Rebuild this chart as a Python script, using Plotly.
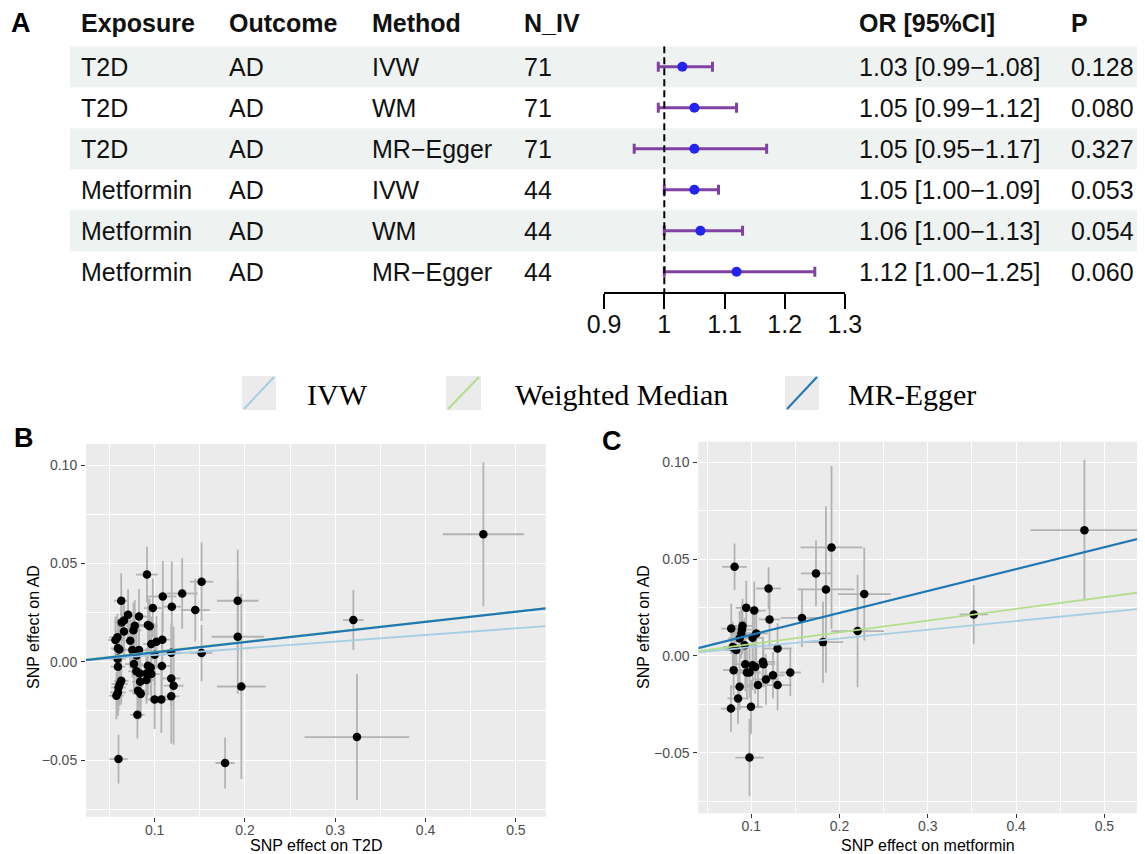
import plotly.graph_objects as go

# The page body adds an 8 px margin, so the figure is shrunk by that amount
OFF = 8
W, H = 1145 - OFF, 854 - OFF


def px(x):
    return (x - OFF) / W


def py(y):
    return 1 - (y - OFF) / H


# ---------------- Panel A data (forest table) ----------------
exposure = ["T2D", "T2D", "T2D", "Metformin", "Metformin", "Metformin"]
outcome = ["AD", "AD", "AD", "AD", "AD", "AD"]
method = ["IVW", "WM", "MR\u2212Egger", "IVW", "WM", "MR\u2212Egger"]
n_iv = [71, 71, 71, 44, 44, 44]
or_est = [1.03, 1.05, 1.05, 1.05, 1.06, 1.12]
or_lo = [0.99, 0.99, 0.95, 1.00, 1.00, 1.00]
or_hi = [1.08, 1.12, 1.17, 1.09, 1.13, 1.25]
p_val = ["0.128", "0.080", "0.327", "0.053", "0.054", "0.060"]
forest_ticks = [0.9, 1.0, 1.1, 1.2, 1.3]
forest_ticktext = ["0.9", "1", "1.1", "1.2", "1.3"]
headers = ["Exposure", "Outcome", "Method", "N_IV", "OR [95%CI]", "P"]

# ---------------- Panel B data (T2D -> AD) ----------------
b_x = [0.063, 0.0915, 0.109, 0.1305, 0.152, 0.098, 0.119, 0.145, 0.0706, 0.066,
       0.0635, 0.0827, 0.078, 0.0765, 0.0926, 0.0945, 0.066, 0.073, 0.0588, 0.0566,
       0.0963, 0.102, 0.1085, 0.0594, 0.061, 0.0753, 0.0827, 0.080, 0.100, 0.1184,
       0.152, 0.059, 0.0594, 0.0771, 0.0926, 0.0956, 0.108, 0.0798, 0.0834, 0.091,
       0.0963, 0.1184, 0.084, 0.091, 0.063, 0.0613, 0.060, 0.0594, 0.0577, 0.0816,
       0.0842, 0.0845, 0.100, 0.1074, 0.121, 0.1184, 0.0809, 0.060, 0.192, 0.192,
       0.196, 0.178, 0.320, 0.324, 0.464]
b_y = [0.031, 0.0443, 0.0332, 0.0347, 0.0407, 0.0273, 0.028, 0.0263, 0.0239, 0.0209,
       0.0200, 0.023, 0.0183, 0.0160, 0.0187, 0.018, 0.0154, 0.0107, 0.0124, 0.011,
       0.009, 0.0102, 0.0112, 0.0068, 0.0062, 0.0059, 0.0059, 0.0032, 0.0036, 0.0046,
       0.0044, 0.0015, -0.0025, -0.0012, -0.002, -0.0029, -0.0022, -0.0049, -0.006, -0.006,
       -0.0063, -0.0085, -0.0102, -0.0093, -0.0097, -0.0113, -0.0131, -0.0156, -0.0173, -0.0147,
       -0.0159, -0.0164, -0.0192, -0.0192, -0.0122, -0.0176, -0.027, -0.0495, 0.031, 0.0127,
       -0.0126, -0.0515, 0.0212, -0.0383, 0.0648]
b_se_x = [0.008, 0.012, 0.015, 0.017, 0.013, 0.010, 0.010, 0.016, 0.009, 0.010,
          0.008, 0.009, 0.010, 0.009, 0.010, 0.009, 0.010, 0.008, 0.009, 0.008,
          0.009, 0.010, 0.009, 0.008, 0.008, 0.009, 0.008, 0.010, 0.011, 0.011,
          0.012, 0.009, 0.008, 0.010, 0.009, 0.008, 0.010, 0.009, 0.008, 0.010,
          0.009, 0.010, 0.009, 0.008, 0.008, 0.009, 0.008, 0.009, 0.008, 0.010,
          0.009, 0.008, 0.008, 0.009, 0.011, 0.009, 0.008, 0.010, 0.023, 0.029,
          0.027, 0.0107, 0.0114, 0.058, 0.045]
b_se_y = [0.014, 0.0142, 0.018, 0.018, 0.020, 0.015, 0.023, 0.016, 0.013, 0.012,
          0.013, 0.014, 0.013, 0.014, 0.015, 0.014, 0.012, 0.014, 0.012, 0.012,
          0.014, 0.013, 0.014, 0.012, 0.013, 0.014, 0.012, 0.013, 0.016, 0.015,
          0.0143, 0.012, 0.013, 0.013, 0.015, 0.014, 0.016, 0.012, 0.014, 0.013,
          0.014, 0.014, 0.013, 0.012, 0.012, 0.011, 0.012, 0.012, 0.012, 0.015,
          0.013, 0.012, 0.015, 0.017, 0.030, 0.024, 0.012, 0.0124, 0.026, 0.029,
          0.047, 0.013, 0.0153, 0.032, 0.0366]

# ---------------- Panel C data (metformin -> AD) ----------------
c_x = [0.0811, 0.1196, 0.1733, 0.0943, 0.1034, 0.1207, 0.1574, 0.0773, 0.0901, 0.0894,
       0.0887, 0.0868, 0.1015, 0.1057, 0.079, 0.0811, 0.0924, 0.1298, 0.0932, 0.1015,
       0.1045, 0.1132, 0.1139, 0.080, 0.0951, 0.098, 0.1246, 0.1442, 0.1166, 0.1076,
       0.1298, 0.0868, 0.085, 0.077, 0.0997, 0.098, 0.1909, 0.1846, 0.228, 0.1812,
       0.2204, 0.4774, 0.352, 0.083]
c_y = [0.046, 0.0348, 0.0426, 0.0248, 0.0234, 0.0188, 0.0196, 0.0141, 0.0155, 0.0136,
       0.0116, 0.009, 0.0093, 0.0116, 0.0046, 0.0038, 0.0055, 0.0038, -0.0043, -0.0048,
       -0.0057, -0.0031, -0.0043, -0.0074, -0.0086, -0.0086, -0.010, -0.0086, -0.0122, -0.0151,
       -0.0151, -0.016, -0.022, -0.0272, -0.0263, -0.0525, 0.056, 0.0343, 0.0319, 0.0071,
       0.0128, 0.0649, 0.0214, 0.003]
c_se_x = [0.014, 0.014, 0.017, 0.012, 0.013, 0.012, 0.024, 0.011, 0.012, 0.011,
          0.012, 0.013, 0.012, 0.013, 0.011, 0.012, 0.012, 0.016, 0.012, 0.013,
          0.012, 0.014, 0.013, 0.012, 0.012, 0.013, 0.013, 0.012, 0.014, 0.012,
          0.016, 0.011, 0.012, 0.011, 0.013, 0.016, 0.035, 0.032, 0.030, 0.023,
          0.030, 0.061, 0.016, 0.012]
c_se_y = [0.012, 0.011, 0.017, 0.014, 0.015, 0.014, 0.015, 0.013, 0.014, 0.013,
          0.013, 0.014, 0.013, 0.014, 0.013, 0.012, 0.014, 0.013, 0.014, 0.013,
          0.014, 0.013, 0.012, 0.013, 0.014, 0.013, 0.012, 0.012, 0.013, 0.012,
          0.013, 0.012, 0.013, 0.012, 0.014, 0.020, 0.042, 0.043, 0.024, 0.021,
          0.029, 0.0364, 0.0152, 0.013]

# MR fit lines: slopes / intercepts
methods = ["IVW", "Weighted Median", "MR-Egger"]
method_colors = ["#A6CEE3", "#B2DF8A", "#1F78B4"]
method_widths = [1.8, 1.8, 2.2]
b_slopes = [0.034, 0.051, 0.0517]
b_intercepts = [0.0, 0.0, -0.0004]
c_slopes = [0.045, 0.0607, 0.1133]
c_intercepts = [0.0, 0.0, -0.0005]

b_xrange = [0.024, 0.533]
b_yrange = [-0.0788, 0.1107]
c_xrange = [0.040, 0.546]
c_yrange = [-0.0813, 0.1106]

SANS = "Liberation Sans, Arial, sans-serif"
SERIF = "Liberation Serif, Times New Roman, serif"
PURPLE = "#8141A3"
DOT_BLUE = "#2424F0"
ERR_GREY = "#B3B3B3"
PANEL_BG = "#EBEBEB"
BAND = "#EEF3F1"

fig = go.Figure()

# ---- Forest plot ----
rows = list(range(1, len(or_est) + 1))
fig.add_trace(go.Scatter(
    x=or_est, y=rows, mode="markers",
    marker=dict(size=10, color=DOT_BLUE),
    error_x=dict(type="data", symmetric=False,
                 array=[h - o for h, o in zip(or_hi, or_est)],
                 arrayminus=[o - l for o, l in zip(or_est, or_lo)],
                 color=PURPLE, thickness=3, width=5),
    xaxis="x3", yaxis="y3", showlegend=False, cliponaxis=False, hoverinfo="skip"))

# ---- Scatter B ----
fig.add_trace(go.Scatter(
    x=b_x, y=b_y, mode="markers", marker=dict(size=8.5, color="black"),
    error_x=dict(type="data", array=b_se_x, color=ERR_GREY, thickness=1.8, width=0),
    error_y=dict(type="data", array=b_se_y, color=ERR_GREY, thickness=1.8, width=0),
    xaxis="x", yaxis="y", showlegend=False))
for m, col, lw, s, a in zip(methods, method_colors, method_widths, b_slopes, b_intercepts):
    fig.add_trace(go.Scatter(
        x=b_xrange, y=[a + s * b_xrange[0], a + s * b_xrange[1]], mode="lines",
        line=dict(color=col, width=lw), xaxis="x", yaxis="y", showlegend=False, name=m))

# ---- Scatter C ----
fig.add_trace(go.Scatter(
    x=c_x, y=c_y, mode="markers", marker=dict(size=8.5, color="black"),
    error_x=dict(type="data", array=c_se_x, color=ERR_GREY, thickness=1.8, width=0),
    error_y=dict(type="data", array=c_se_y, color=ERR_GREY, thickness=1.8, width=0),
    xaxis="x2", yaxis="y2", showlegend=False))
for m, col, lw, s, a in zip(methods, method_colors, method_widths, c_slopes, c_intercepts):
    fig.add_trace(go.Scatter(
        x=c_xrange, y=[a + s * c_xrange[0], a + s * c_xrange[1]], mode="lines",
        line=dict(color=col, width=lw), xaxis="x2", yaxis="y2", showlegend=False, name=m))

shapes = []
annotations = []

# Row bands
for r in rows:
    if r % 2 == 1:
        shapes.append(dict(type="rect", xref="paper", yref="y3", x0=px(70), x1=1.0,
                           y0=r - 0.5, y1=r + 0.5, fillcolor=BAND, line=dict(width=0),
                           layer="below"))
# Null line
shapes.append(dict(type="line", xref="x3", yref="y3", x0=1.0, x1=1.0, y0=0.5, y1=6.5,
                   line=dict(color="black", width=2, dash="7px,4px"), layer="above"))

# Gray panel backgrounds
for ax in ["x", "x2"]:
    yax = "y" if ax == "x" else "y2"
    shapes.append(dict(type="rect", xref=f"{ax} domain", yref=f"{yax} domain",
                       x0=0, x1=1, y0=0, y1=1, fillcolor=PANEL_BG, line=dict(width=0),
                       layer="below"))

# Table text
col_x = [78.5, 226.5, 370, 521.5, 857, 1069]
for cx, htxt in zip(col_x, headers):
    annotations.append(dict(x=px(cx), y=py(23), xref="paper", yref="paper",
                            text=f"<b>{htxt}</b>", showarrow=False, xanchor="left",
                            yanchor="middle", font=dict(family=SANS, size=25, color="#111111")))
for i, r in enumerate(rows):
    or_txt = f"{or_est[i]:.2f} [{or_lo[i]:.2f}\u2212{or_hi[i]:.2f}]"
    vals = [exposure[i], outcome[i], method[i], str(n_iv[i]), or_txt, p_val[i]]
    for cx, v in zip(col_x, vals):
        annotations.append(dict(x=px(cx), y=r, xref="paper", yref="y3", text=v,
                                showarrow=False, xanchor="left", yanchor="middle",
                                font=dict(family=SANS, size=25, color="#111111")))

# Panel letters
for letter, lx, ly in [("A", 9, 23), ("B", 12, 438), ("C", 600, 441)]:
    annotations.append(dict(x=px(lx), y=py(ly), xref="paper", yref="paper",
                            text=f"<b>{letter}</b>", showarrow=False, xanchor="left",
                            yanchor="middle", font=dict(family=SANS, size=27, color="black")))

# Axis titles
title_font = dict(family=SANS, size=16, color="black")
annotations += [
    dict(x=px(33), y=py(627), xref="paper", yref="paper", text="SNP effect on AD",
         textangle=-90, showarrow=False, xanchor="center", yanchor="middle", font=title_font),
    dict(x=px(643), y=py(627), xref="paper", yref="paper", text="SNP effect on AD",
         textangle=-90, showarrow=False, xanchor="center", yanchor="middle", font=title_font),
    dict(x=px(316), y=py(845), xref="paper", yref="paper", text="SNP effect on T2D",
         showarrow=False, xanchor="center", yanchor="middle", font=title_font),
    dict(x=px(928), y=py(845), xref="paper", yref="paper", text="SNP effect on metformin",
         showarrow=False, xanchor="center", yanchor="middle", font=title_font),
]

# Legend (manual, ggplot style)
legend_keys = [(242, 276, 305), (446, 481, 513), (785, 819, 846)]
for (k0, k1, tx), m, col in zip(legend_keys, methods, method_colors):
    shapes.append(dict(type="rect", xref="paper", yref="paper", x0=px(k0), x1=px(k1),
                       y0=py(410), y1=py(376), fillcolor=PANEL_BG, line=dict(width=0)))
    shapes.append(dict(type="line", xref="paper", yref="paper", x0=px(k0 + 2), x1=px(k1 - 2),
                       y0=py(409), y1=py(377), line=dict(color=col, width=2)))
    annotations.append(dict(x=px(tx), y=py(394), xref="paper", yref="paper", text=m,
                            showarrow=False, xanchor="left", yanchor="middle",
                            font=dict(family=SERIF, size=30, color="black")))

scatter_axis = dict(showgrid=True, gridcolor="white", gridwidth=1.4, zeroline=False,
                    ticks="outside", ticklen=4, tickwidth=1.1, tickcolor="#333333",
                    tickfont=dict(family=SANS, size=14, color="#4D4D4D"), showline=False,
                    automargin=False)

fig.update_layout(
    width=W, height=H, margin=dict(l=0, r=0, t=0, b=0, autoexpand=False),
    paper_bgcolor="white", plot_bgcolor="white", showlegend=False,
    shapes=shapes, annotations=annotations,
    xaxis=dict(domain=[px(86), px(545.7)], range=b_xrange, anchor="y",
               tickvals=[0.1, 0.2, 0.3, 0.4, 0.5], tickformat=".1f", ticklabelstandoff=-4,
               minor=dict(dtick=0.05, tick0=0, showgrid=True, gridcolor="white", gridwidth=0.7),
               **scatter_axis),
    yaxis=dict(domain=[py(816.7), py(444)], range=b_yrange, anchor="x",
               tickvals=[-0.05, 0.0, 0.05, 0.10], tickformat=".2f", ticklabelstandoff=1,
               minor=dict(dtick=0.025, tick0=0, showgrid=True, gridcolor="white", gridwidth=0.7),
               **scatter_axis),
    xaxis2=dict(domain=[px(698.3), 1.0], range=c_xrange, anchor="y2",
                tickvals=[0.1, 0.2, 0.3, 0.4, 0.5], tickformat=".1f", ticklabelstandoff=-4,
                minor=dict(dtick=0.05, tick0=0, showgrid=True, gridcolor="white", gridwidth=0.7),
                **scatter_axis),
    yaxis2=dict(domain=[py(813.3), py(441.7)], range=c_yrange, anchor="x2",
                tickvals=[-0.05, 0.0, 0.05, 0.10], tickformat=".2f", ticklabelstandoff=1,
                minor=dict(dtick=0.025, tick0=0, showgrid=True, gridcolor="white", gridwidth=0.7),
                **scatter_axis),
    xaxis3=dict(domain=[px(604.1), px(844.9)], range=[0.9, 1.3], anchor="y3",
                showline=True, linecolor="black", linewidth=1.5, showgrid=False, zeroline=False,
                ticks="outside", ticklen=15, tickwidth=1.5, tickcolor="black",
                tickvals=forest_ticks, ticktext=forest_ticktext, automargin=False,
                ticklabelstandoff=-6,
                tickfont=dict(family=SANS, size=25, color="#111111")),
    yaxis3=dict(domain=[py(292.2), py(46.2)], range=[6.5, 0.5], anchor="x3",
                visible=False, showgrid=False, zeroline=False, automargin=False),
)

fig.write_html("out.html")
